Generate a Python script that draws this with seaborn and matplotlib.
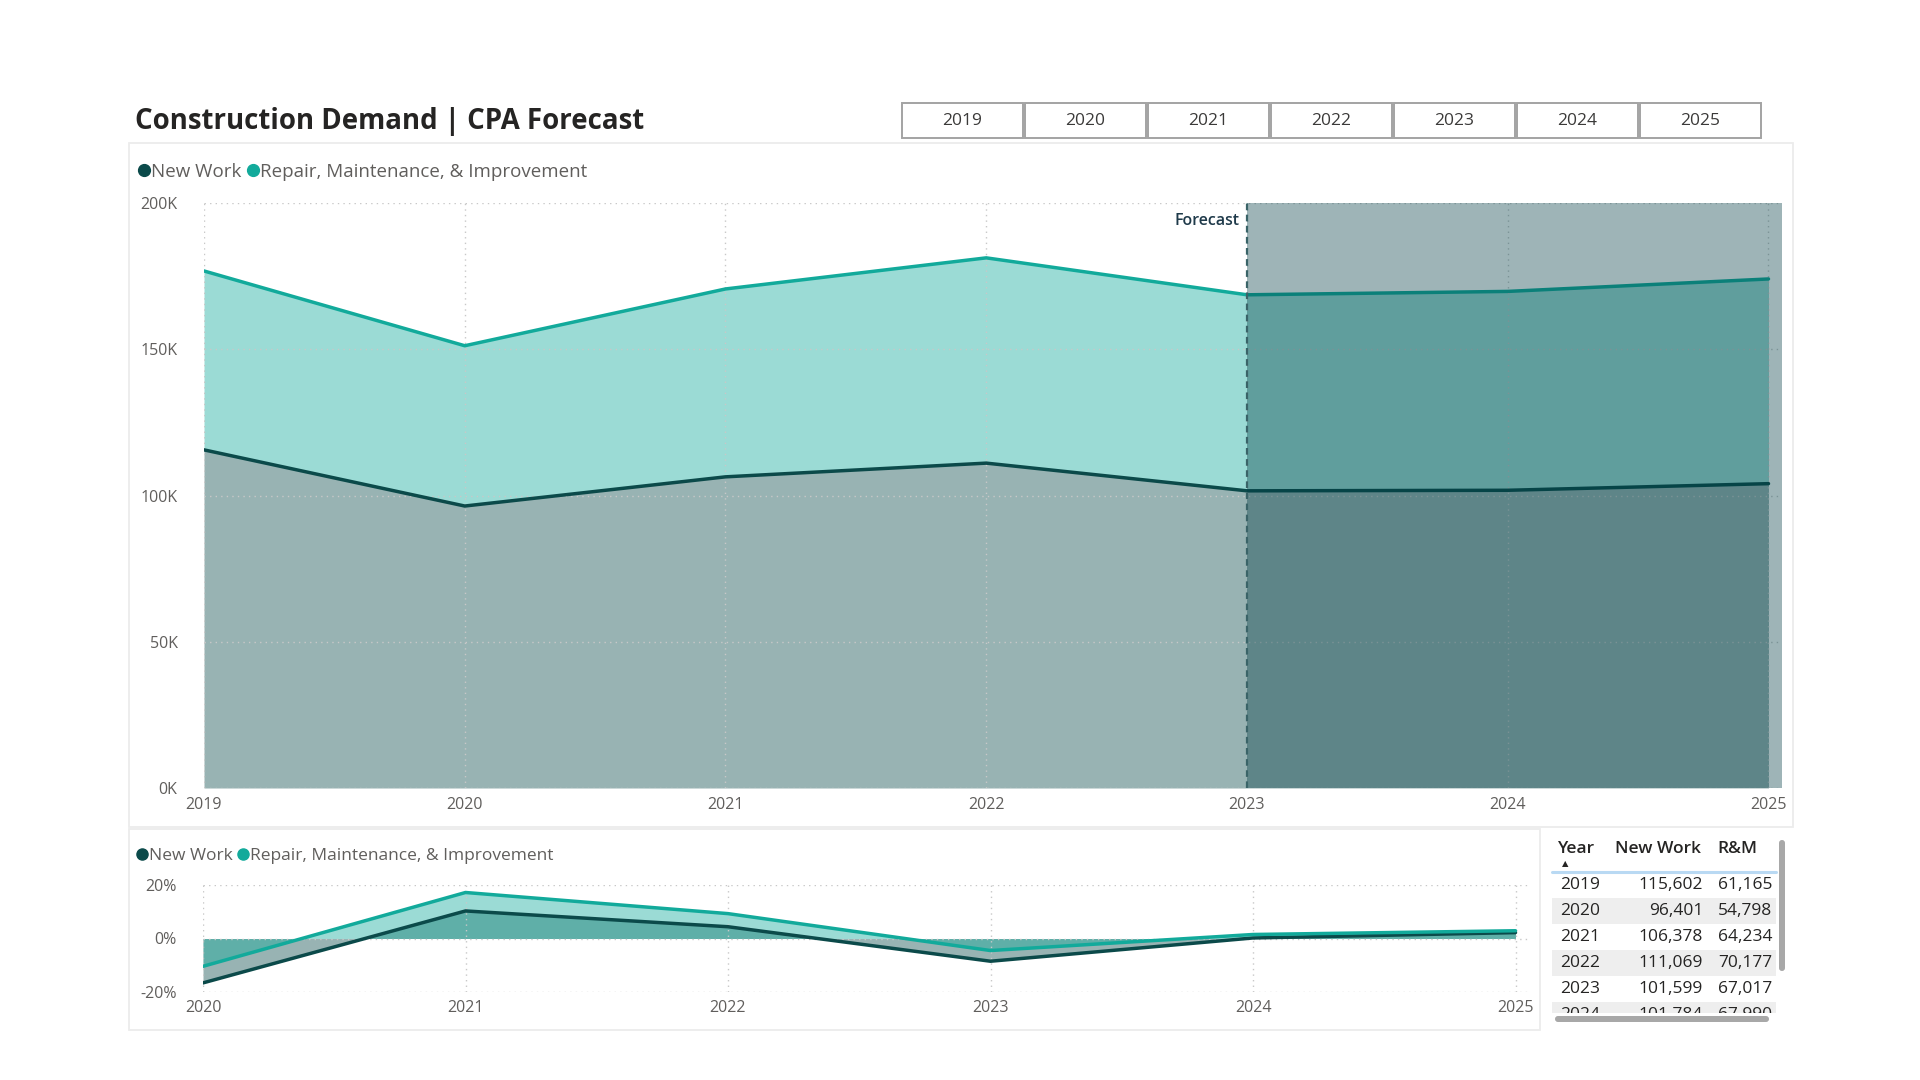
import numpy as np
import pandas as pd
import matplotlib
matplotlib.use("Agg")
import matplotlib.pyplot as plt
from matplotlib.lines import Line2D
from matplotlib.patches import Rectangle, FancyBboxPatch
import seaborn as sns

sns.set_theme(style="white")
plt.rcParams["font.family"] = ["Open Sans", "DejaVu Sans"]

# ── data ──────────────────────────────────────────────────────────────────────
years = [2019, 2020, 2021, 2022, 2023, 2024, 2025]
new_work = [115602, 96401, 106378, 111069, 101599, 101784, 104050]
repair_maint = [61165, 54798, 64234, 70177, 67017, 67990, 69980]

yoy_years = [2020, 2021, 2022, 2023, 2024, 2025]
new_work_yoy = [-16.6, 10.3, 4.4, -8.5, 0.2, 2.2]
repair_yoy = [-10.4, 17.2, 9.3, -4.5, 1.5, 2.9]

forecast_start = 2023
y_ticks = [0, 50000, 100000, 150000, 200000]
y_tick_labels = ["0K", "50K", "100K", "150K", "200K"]
pct_ticks = [-20, 0, 20]
pct_tick_labels = ["-20%", "0%", "20%"]

NW_COLOR = "#0B4A4A"
RM_COLOR = "#12AA9B"
TICK_COLOR = "#605E5C"
TEXT_COLOR = "#252423"
GRID_KW = dict(color="#C8C8C8", linestyle=(0, (1, 3)), linewidth=1)
TICK_SIZE = 11.5
TABLE_SIZE = 12.5

W, H = 1920, 1080


def rect(l, t, r, b):
    """pixel box (top-left origin) -> figure fraction rect"""
    return [l / W, 1 - b / H, (r - l) / W, (b - t) / H]


fig = plt.figure(figsize=(19.2, 10.8), dpi=100, facecolor="white")

# background layer in pixel coordinates
bg = fig.add_axes([0, 0, 1, 1], zorder=0)
bg.set_xlim(0, W)
bg.set_ylim(H, 0)
bg.axis("off")

bg.text(135, 121, "Construction Demand | CPA Forecast", fontsize=19.9,
        fontweight="bold", color=TEXT_COLOR, va="center", ha="left")

for i, yr in enumerate(years):
    x0 = 902 + i * 123
    bg.add_patch(Rectangle((x0, 103), 121, 35, facecolor="white",
                           edgecolor="#A3A3A3", lw=1.4))
    bg.text(x0 + 60.5, 121, str(yr), ha="center", va="center",
            fontsize=12.5, color="#3B3A39")

for (l, t, r, b) in [(129, 143, 1793, 827), (129, 829, 1540, 1030)]:
    bg.add_patch(Rectangle((l, t), r - l, b - t, facecolor="none",
                           edgecolor="#ECECEC", lw=1.3))

# scrollbars of the table
bg.add_patch(FancyBboxPatch((1779, 840), 6, 131, boxstyle="round,pad=0,rounding_size=3",
                            facecolor="#A8A8A8", edgecolor="none"))
bg.add_patch(FancyBboxPatch((1555, 1016), 214, 6, boxstyle="round,pad=0,rounding_size=3",
                            facecolor="#A8A8A8", edgecolor="none"))


def legend(ax, x, y, size, msize):
    handles = [Line2D([], [], marker="o", ls="none", color=NW_COLOR, markersize=msize),
               Line2D([], [], marker="o", ls="none", color=RM_COLOR, markersize=msize)]
    ax.legend(handles, ["New Work", "Repair, Maintenance, & Improvement"],
              loc="center left", bbox_to_anchor=(x / W, 1 - y / H),
              bbox_transform=fig.transFigure, ncol=2, frameon=False,
              handlelength=0.6, handletextpad=0.1, columnspacing=0.3,
              borderpad=0, borderaxespad=0, fontsize=size, labelcolor=TICK_COLOR)


# ── top: stacked area with forecast shading ─────────────────────────────────
x_right = 2019 + (1782 - 204) / 260.75
ax = fig.add_axes(rect(204, 203, 1782, 788), zorder=2)
ax.patch.set_alpha(0)
total = np.add(new_work, repair_maint)

ax.fill_between(years, 0, new_work, color=NW_COLOR, alpha=0.42, lw=0, zorder=1)
ax.fill_between(years, new_work, total, color=RM_COLOR, alpha=0.42, lw=0, zorder=1)
sns.lineplot(x=years, y=total, color=RM_COLOR, lw=2.5, ax=ax, zorder=3)
sns.lineplot(x=years, y=new_work, color=NW_COLOR, lw=2.5, ax=ax, zorder=3)

ax.axvspan(forecast_start, x_right, color="#003C44", alpha=0.38, lw=0, zorder=4)
ax.axvline(forecast_start, color="#3A6468", ls=(0, (3, 2)), lw=1.6, zorder=5)
ax.text(forecast_start - 0.03, 194000, "Forecast", ha="right", va="center",
        fontsize=11.5, fontweight="semibold", color="#1F3A4A")

ax.set_xlim(2019, x_right)
ax.set_ylim(0, 200000)
ax.set_xticks(years)
ax.set_xticklabels([str(y) for y in years])
ax.set_yticks(y_ticks)
ax.set_yticklabels(y_tick_labels)
ax.tick_params(axis="both", length=0, labelsize=TICK_SIZE, colors=TICK_COLOR)
ax.tick_params(axis="y", pad=19)
ax.tick_params(axis="x", pad=6.5)
ax.grid(True, **GRID_KW)
ax.set_axisbelow("line")
sns.despine(ax=ax, left=True, bottom=True)
legend(ax, 138, 172, 13.5, 8.5)

# ── bottom: year-over-year change ───────────────────────────────────────────
x_right2 = 2020 + (1528 - 203) / 262.5
ax2 = fig.add_axes(rect(203, 885, 1528, 992), zorder=2)
ax2.patch.set_alpha(0)
ax2.fill_between(yoy_years, 0, new_work_yoy, color=NW_COLOR, alpha=0.42, lw=0, zorder=1)
ax2.fill_between(yoy_years, 0, repair_yoy, color=RM_COLOR, alpha=0.42, lw=0, zorder=1)
sns.lineplot(x=yoy_years, y=new_work_yoy, color=NW_COLOR, lw=2.5, ax=ax2, zorder=3)
sns.lineplot(x=yoy_years, y=repair_yoy, color=RM_COLOR, lw=2.5, ax=ax2, zorder=3)

ax2.set_xlim(2020, x_right2)
ax2.set_ylim(-20, 20)
ax2.set_xticks(yoy_years)
ax2.set_xticklabels([str(y) for y in yoy_years])
ax2.set_yticks(pct_ticks)
ax2.set_yticklabels(pct_tick_labels)
ax2.tick_params(axis="both", length=0, labelsize=TICK_SIZE, colors=TICK_COLOR)
ax2.tick_params(axis="y", pad=19)
ax2.tick_params(axis="x", pad=5.5)
ax2.grid(True, **GRID_KW)
ax2.set_axisbelow("line")
sns.despine(ax=ax2, left=True, bottom=True)
legend(ax2, 137, 856, 12.5, 8)

# ── table ───────────────────────────────────────────────────────────────────
tab = fig.add_axes(rect(1547, 833, 1790, 1013), zorder=3)
tab.set_xlim(1547, 1790)
tab.set_ylim(1013, 833)
tab.axis("off")

tab.text(1558, 849, "Year", ha="left", va="center", fontsize=TABLE_SIZE,
         fontweight="semibold", color=TEXT_COLOR)
tab.text(1701, 849, "New Work", ha="right", va="center", fontsize=TABLE_SIZE,
         fontweight="semibold", color=TEXT_COLOR)
tab.text(1757, 849, "R&M", ha="right", va="center", fontsize=TABLE_SIZE,
         fontweight="semibold", color=TEXT_COLOR)
tab.text(1565, 864, "\u25b2", ha="center", va="center", fontsize=6,
         color=TEXT_COLOR, family="DejaVu Sans")
tab.plot([1552, 1776], [872, 872], color="#B9D9F3", lw=2.2)

for i, (yr, nw, rm) in enumerate(zip(years, new_work, repair_maint)):
    yc = 885 + 26 * i
    if i % 2 == 1:
        tab.add_patch(Rectangle((1552, yc - 13), 224, 26, facecolor="#EEEEEE",
                                edgecolor="none", zorder=0))
    tab.text(1560, yc, str(yr), ha="left", va="center", fontsize=TABLE_SIZE,
             color=TEXT_COLOR, clip_on=True)
    tab.text(1703, yc, f"{nw:,}", ha="right", va="center", fontsize=TABLE_SIZE,
             color=TEXT_COLOR, clip_on=True)
    tab.text(1772, yc, f"{rm:,}", ha="right", va="center", fontsize=TABLE_SIZE,
             color=TEXT_COLOR, clip_on=True)

fig.savefig("out.png", dpi=100, facecolor="white")
